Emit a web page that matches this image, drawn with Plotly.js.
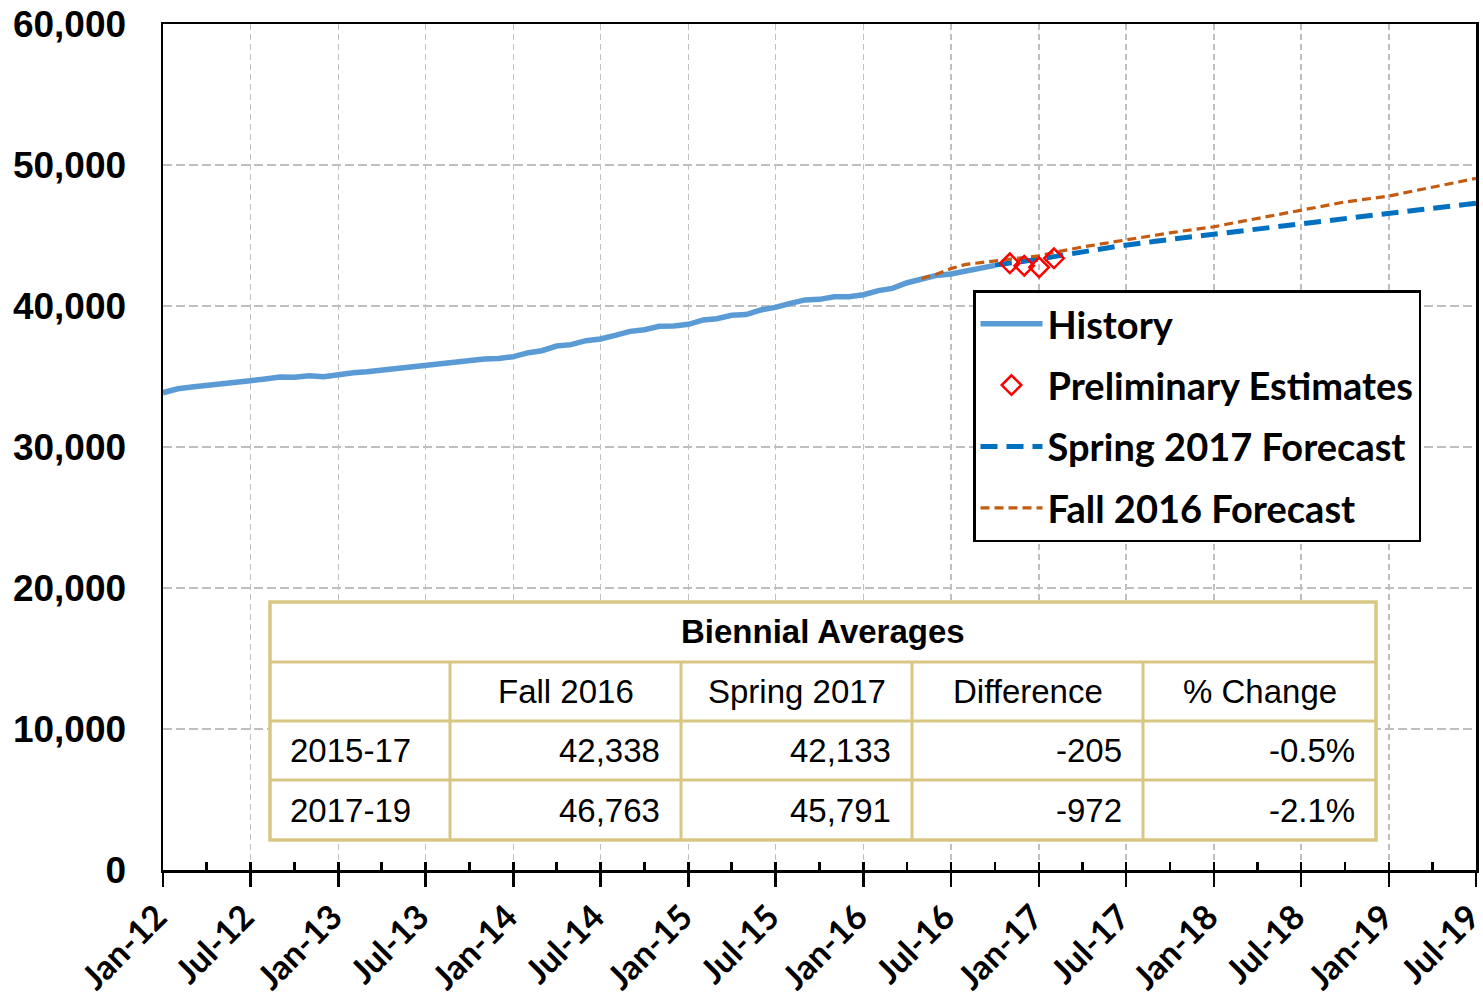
<!DOCTYPE html>
<html>
<head>
<meta charset="utf-8">
<script src="https://cdn.plot.ly/plotly-3.0.1.min.js"></script>
<style>
  html, body { margin: 0; padding: 0; background: #ffffff; }
  #chart { width: 1483px; height: 1001px; }
</style>
</head>
<body>
<div id="chart"></div>
<script>
// ---------------- DATA ----------------
const historyStart = '2012-01';
const historyValues = [
  33850, 34130, 34260, 34350, 34450, 34610, 34700, 34820, 34960, 34940, 35060, 34990,
  35150, 35270, 35340, 35460, 35530, 35670, 35770, 35930, 36050, 36120, 36240, 36270,
  36410, 36690, 36830, 37160, 37260, 37540, 37660, 37920, 38200, 38320, 38560, 38580,
  38700, 39010, 39100, 39340, 39390, 39720, 39900, 40190, 40430, 40470, 40660, 40660,
  40800, 41090, 41250, 41650, 41890, 42170, 42270, 42500, 42720, 42880
];

const prelimStart = '2016-11';
const prelimValues = [43030, 42860, 42740, 43380];

const springStart = '2016-10';
const springValues = [
  42900, 43020, 43150, 43320, 43500, 43680, 43850, 44000, 44170, 44330,
  44460, 44590, 44720, 44850, 44980, 45110, 45240, 45360, 45490, 45610,
  45740, 45860, 45980, 46100, 46210, 46330, 46450, 46570, 46690, 46810,
  46920, 47040, 47160, 47280
];

const fallStart = '2016-05';
const fallValues = [
  41950, 42250, 42650, 42950, 43080, 43190, 43280, 43400, 43560, 43800,
  44000, 44180, 44350, 44530, 44680, 44830, 45030, 45190, 45340, 45480,
  45620, 45830, 46010, 46220, 46420, 46640, 46840, 47040, 47200, 47380,
  47520, 47650, 47800, 48020, 48220, 48430, 48640, 48860, 49050
];

const seriesNames = ['History', 'Preliminary Estimates', 'Spring 2017 Forecast', 'Fall 2016 Forecast'];

const tableTitle = 'Biennial Averages';
const tableHeaders = ['', 'Fall 2016', 'Spring 2017', 'Difference', '% Change'];
const tablePeriods = ['2015-17', '2017-19'];
const fall2016Avg = [42338, 46763];
const spring2017Avg = [42133, 45791];
const differenceAvg = [-205, -972];
const pctChange = [-0.5, -2.1];

const xRange = ['2012-01-01', '2019-07-01 03:00'];
const yTickVals = [0, 10000, 20000, 30000, 40000, 50000, 60000];

// ---------------- HELPERS ----------------
function monthSeq(start, n) {
  const [y0, m0] = start.split('-').map(Number);
  const out = [];
  for (let i = 0; i < n; i++) {
    const t = (m0 - 1) + i;
    const y = y0 + Math.floor(t / 12);
    const m = (t % 12) + 1;
    out.push(y + '-' + String(m).padStart(2, '0') + '-01');
  }
  return out;
}
const fmt = v => v.toLocaleString('en-US');

// plot area in page pixels
const PL = 163, PR = 1476, PT = 24, PB = 870;
const px = p => (p - PL) / (PR - PL);
const py = p => (PB - p) / (PB - PT);

// ---------------- TRACES ----------------
const calibriLike = 'Lato, "Open Sans", sans-serif';
const arialLike = '"Liberation Sans", Arial, sans-serif';

const traces = [
  {
    name: seriesNames[0], x: monthSeq(historyStart, historyValues.length), y: historyValues,
    type: 'scatter', mode: 'lines', line: { color: '#5B9BD5', width: 5.5 },
    legendrank: 1, legendgroup: 'a', hoverinfo: 'skip'
  },
  {
    name: seriesNames[2], x: monthSeq(springStart, springValues.length), y: springValues,
    type: 'scatter', mode: 'lines', line: { color: '#0070C0', width: 5, dash: '17px,9px' },
    legendrank: 3, legendgroup: 'c', hoverinfo: 'skip'
  },
  {
    name: seriesNames[3], x: monthSeq(fallStart, fallValues.length), y: fallValues,
    type: 'scatter', mode: 'lines', line: { color: '#C55A11', width: 3.2, dash: '9px,5px' },
    legendrank: 4, legendgroup: 'd', hoverinfo: 'skip'
  },
  {
    name: seriesNames[1], x: monthSeq(prelimStart, prelimValues.length), y: prelimValues,
    type: 'scatter', mode: 'markers', xaxis: 'x2',
    marker: { symbol: 'diamond-open', size: 15, color: '#FF0000', line: { width: 2.5, color: '#FF0000' } },
    legendrank: 2, legendgroup: 'b', hoverinfo: 'skip'
  }
];

// ---------------- TABLE (shapes + annotations) ----------------
const colEdges = [270, 450, 681, 912, 1143, 1376];
const rowEdges = [602, 662, 721, 780, 840];
const gold = '#D8C783';
const shapes = [];
const annotations = [];

shapes.push({ type: 'rect', xref: 'paper', yref: 'paper', layer: 'above',
  x0: px(colEdges[0]), x1: px(colEdges[5]), y0: py(rowEdges[0]), y1: py(rowEdges[4]),
  fillcolor: '#ffffff', line: { color: gold, width: 3.5 } });
for (let r = 1; r < rowEdges.length - 1; r++) {
  shapes.push({ type: 'line', xref: 'paper', yref: 'paper', layer: 'above',
    x0: px(colEdges[0]), x1: px(colEdges[5]), y0: py(rowEdges[r]), y1: py(rowEdges[r]),
    line: { color: gold, width: 3 } });
}
for (let c = 1; c < colEdges.length - 1; c++) {
  shapes.push({ type: 'line', xref: 'paper', yref: 'paper', layer: 'above',
    x0: px(colEdges[c]), x1: px(colEdges[c]), y0: py(rowEdges[1]), y1: py(rowEdges[4]),
    line: { color: gold, width: 3 } });
}
const tFont = { family: arialLike, size: 33, color: '#000000' };
annotations.push({ xref: 'paper', yref: 'paper', showarrow: false,
  x: px((colEdges[0] + colEdges[5]) / 2), y: py((rowEdges[0] + rowEdges[1]) / 2),
  xanchor: 'center', yanchor: 'middle', text: '<b>' + tableTitle + '</b>',
  font: { family: arialLike, size: 33, color: '#000000', weight: 'bold' } });
for (let c = 1; c < tableHeaders.length; c++) {
  annotations.push({ xref: 'paper', yref: 'paper', showarrow: false,
    x: px((colEdges[c] + colEdges[c + 1]) / 2), y: py((rowEdges[1] + rowEdges[2]) / 2),
    xanchor: 'center', yanchor: 'middle', text: tableHeaders[c], font: tFont });
}
const rowsData = tablePeriods.map((p, i) => [p, fmt(fall2016Avg[i]), fmt(spring2017Avg[i]), fmt(differenceAvg[i]), pctChange[i].toFixed(1) + '%']);
rowsData.forEach((row, i) => {
  const yc = py((rowEdges[2 + i] + rowEdges[3 + i]) / 2);
  row.forEach((txt, c) => {
    const left = c === 0;
    annotations.push({ xref: 'paper', yref: 'paper', showarrow: false,
      x: left ? px(colEdges[c] + 18) : px(colEdges[c + 1] - 19), y: yc,
      xanchor: left ? 'left' : 'right', yanchor: 'middle', text: txt, font: tFont });
  });
});

// ---------------- LAYOUT ----------------
const layout = {
  width: 1483, height: 1001,
  margin: { l: PL, r: 1483 - PR, t: PT, b: 1001 - PB, pad: 0 },
  paper_bgcolor: '#ffffff', plot_bgcolor: '#ffffff',
  showlegend: true,
  legend: {
    x: px(973), y: py(290), xanchor: 'left', yanchor: 'top',
    bgcolor: '#ffffff', bordercolor: '#000000', borderwidth: 2.5,
    font: { family: calibriLike, size: 38, color: '#000000', weight: 'bold' },
    itemwidth: 62, tracegroupgap: 9, traceorder: 'grouped', itemclick: false
  },
  xaxis: {
    type: 'date', range: xRange, dtick: 'M6', tick0: '2012-01-01', tickformat: '%b-%y',
    tickangle: -45, ticks: 'outside', ticklen: 14, tickwidth: 2.5, tickcolor: '#000000',
    ticklabeloverflow: 'allow', ticklabelstandoff: -3, ticklabelshift: -6,
    showline: true, linecolor: '#000000', linewidth: 2.5, mirror: true,
    showgrid: true, gridcolor: '#BFBFBF', gridwidth: 1.5, griddash: '6px,4px',
    zeroline: false, fixedrange: true,
    tickfont: { family: calibriLike, size: 34, color: '#000000', weight: 'bold' }
  },
  xaxis2: {
    type: 'date', range: xRange, overlaying: 'x', anchor: 'y', side: 'bottom',
    dtick: 'M3', tick0: '2012-01-01', ticks: 'inside', ticklen: 8, tickwidth: 2.5, tickcolor: '#000000',
    showticklabels: false, showgrid: false, showline: false, zeroline: false, fixedrange: true
  },
  yaxis: {
    range: [0, 60000], tickvals: yTickVals, ticktext: yTickVals.map(fmt), ticks: '',
    showline: true, linecolor: '#000000', linewidth: 2.5, mirror: true,
    showgrid: true, gridcolor: '#BFBFBF', gridwidth: 1.5, griddash: '9px,4px',
    zeroline: false, fixedrange: true, ticklabelstandoff: 27,
    tickfont: { family: arialLike, size: 37, color: '#000000', weight: 'bold' }
  },
  shapes: shapes,
  annotations: annotations
};

Plotly.newPlot('chart', traces, layout, { displayModeBar: false, staticPlot: true });
</script>
</body>
</html>
